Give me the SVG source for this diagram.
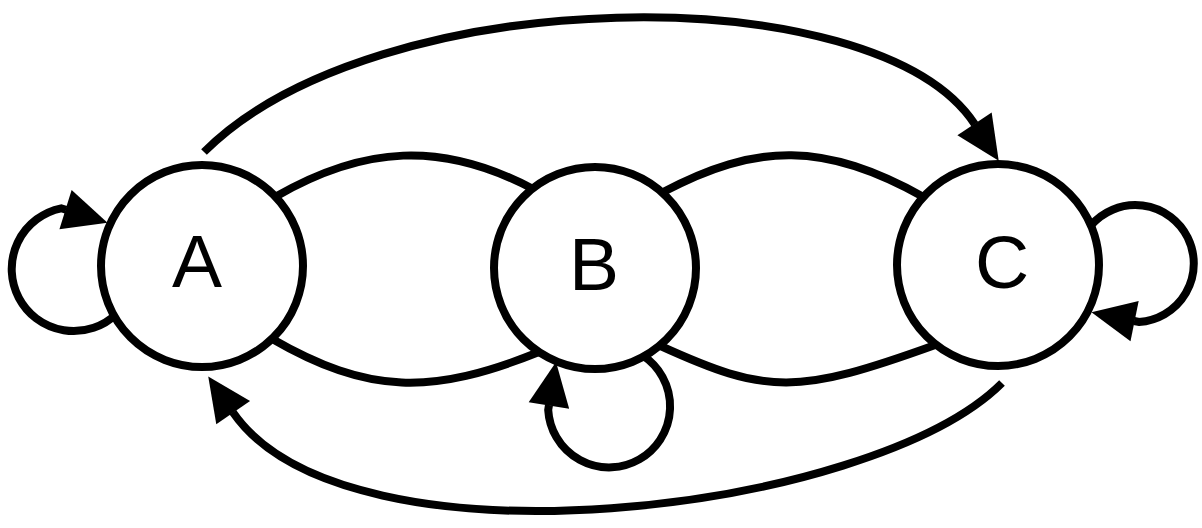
<svg xmlns="http://www.w3.org/2000/svg" width="1202" height="528" viewBox="0 0 1202 528">
  <style>
    .edge { fill: none; stroke: #000; stroke-width: 8; }
    .node circle { fill: #fff; stroke: #000; stroke-width: 8; }
    .node text { font-family: "Liberation Sans", Arial, Helvetica, sans-serif; font-size: 75px; fill: #000; text-anchor: middle; }
  </style>
  <defs>
    <marker id="arr" markerUnits="userSpaceOnUse" markerWidth="46" markerHeight="42" refX="0.5" refY="20.5" orient="auto" overflow="visible">
      <path d="M0,0 L44,20.5 L0,41 Z" fill="#000"/>
    </marker>
  </defs>
  <rect width="1202" height="528" fill="#fff"/>
  <g id="connectors">
    <path class="edge" d="M275,197 C363,146 442,140 535,190"/>
    <path class="edge" d="M270.5,338 C369,395 432,395 539.6,351.8"/>
    <path class="edge" d="M661.7,192.8 C757,142 825,142 924.4,197.4"/>
    <path class="edge" d="M659.5,345.5 C768,395 797,395 936.6,344.6"/>
    <path class="edge" d="M204,152 C375,-19 876,-26 974.8,124.3" marker-end="url(#arr)"/>
    <path class="edge" d="M1002,383 C872,513 346.3,577.1 232.9,412.3" marker-end="url(#arr)"/>
    <path class="edge" d="M116.6,313.8 A62,62 0 1 1 61.2,208.3 L66,209.8" marker-end="url(#arr)"/>
    <path class="edge" d="M1091,225.4 A58.5,58.5 0 1 1 1139,322 L1134.1,321" marker-end="url(#arr)"/>
    <path class="edge" d="M643.2,355.8 A61,61 0 1 1 548.2,409.9 L549,405" marker-end="url(#arr)"/>
  </g>
  <g id="node-A" class="node">
    <circle cx="202" cy="266" r="101"/>
    <text x="197" y="287">A</text>
  </g>
  <g id="node-B" class="node">
    <circle cx="595" cy="268" r="101"/>
    <text x="594" y="290">B</text>
  </g>
  <g id="node-C" class="node">
    <circle cx="998" cy="265" r="101"/>
    <text x="1002" y="288">C</text>
  </g>
</svg>
